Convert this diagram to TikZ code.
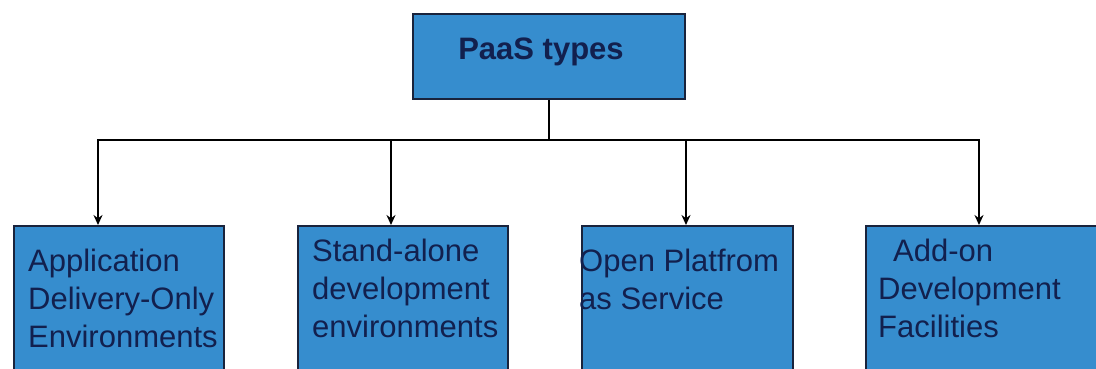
\documentclass[tikz,border=0pt]{standalone}
\usepackage{fontspec}
\setmainfont{Liberation Sans}
\usepackage{xcolor}
\usepackage{tikz}
\usetikzlibrary{arrows.meta,positioning}
\definecolor{boxblue}{RGB}{54,141,206}
\definecolor{boxline}{RGB}{25,35,60}
\definecolor{boxtext}{RGB}{18,32,78}
\tikzset{
  typebox/.style={rectangle, draw=boxline, fill=boxblue, line width=2pt, inner sep=0pt, anchor=north west},
  typetext/.style={anchor=north west, align=left, inner sep=0pt, text=boxtext, font=\fontsize{31}{38}\selectfont},
  link/.style={draw=black, line width=1.8pt},
  linkarrow/.style={link, -{Stealth[length=10pt, width=9pt]}}
}
\begin{document}
\begin{tikzpicture}[x=1pt, y=-1pt]
\useasboundingbox (0,0) rectangle (1096,369);
% --- Root box ---
\node[rectangle, draw=boxline, fill=boxblue, line width=2pt, minimum width=272pt, minimum height=85pt] (Root) at (549,56.5) {};
\node[text=boxtext, font=\fontsize{31}{37}\selectfont\bfseries] (RootText) at (541,52) {PaaS types};
% --- Type boxes (bottom row, cut off at the page edge) ---
\foreach \i/\xl/\w in {1/13/210, 2/297/210, 3/581/211, 4/865/260} {
    \node[typebox, minimum width=\w pt, minimum height=170pt] (B\i) at (\xl,225) {};
}
% Box texts
\node[typetext] (T1) at ([xshift=15pt, yshift=-24pt]B1.north west) {Application\\Delivery-Only\\Environments};
\node[typetext] (T2) at ([xshift=15pt, yshift=-14pt]B2.north west) {Stand-alone\\development\\environments};
\node[typetext] (T3) at ([xshift=-2pt, yshift=-24pt]B3.north west) {Open Platfrom\\as Service};
\node[typetext] (T4) at ([xshift=13pt, yshift=-14pt]B4.north west) {\hspace*{15pt}Add-on\\Development\\Facilities};
% --- Connectors ---
\coordinate (J) at (549,140);
\foreach \i/\ax in {1/98, 2/391, 3/686, 4/979} {
    \coordinate (A\i) at (\ax,140);
}
\draw[link] (Root.south) -- (J);
\draw[link, line cap=rect] (A1) -- (A4);
\foreach \i in {1,...,4} {
    \draw[linkarrow] (A\i) -- (A\i |- B\i.north);
}
\end{tikzpicture}
\end{document}
